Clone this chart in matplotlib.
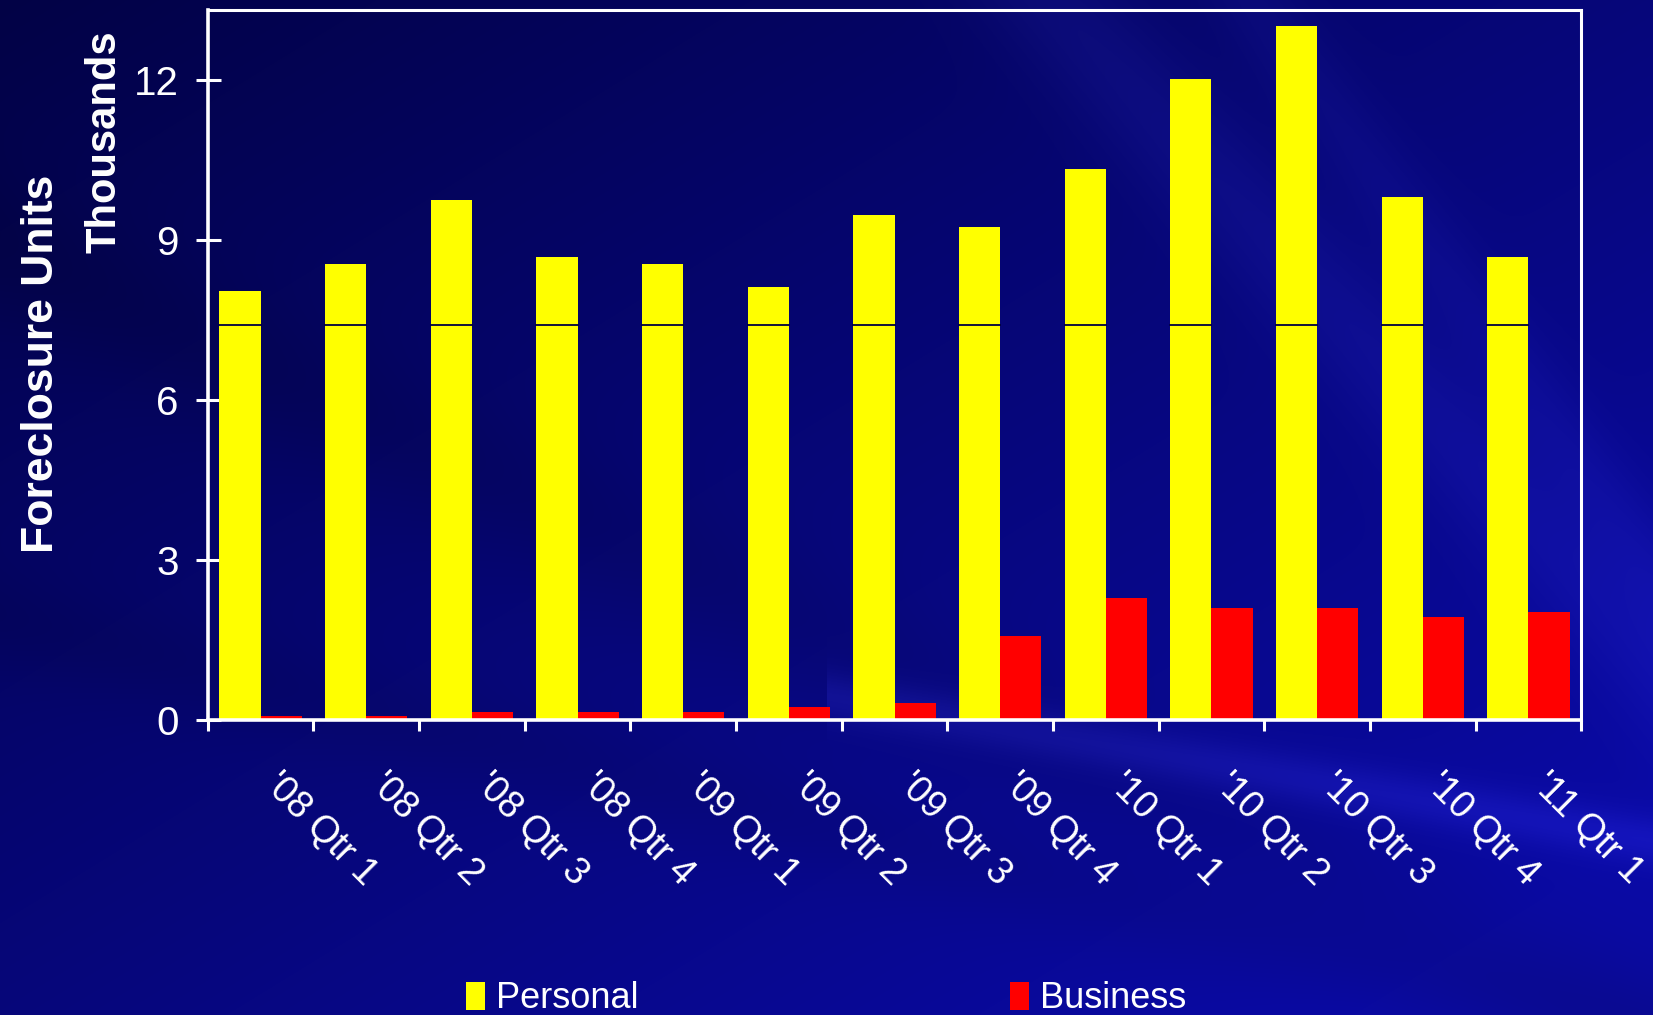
import numpy as np
import matplotlib.pyplot as plt
from matplotlib.transforms import ScaledTranslation

quarters = ["'08 Qtr 1", "'08 Qtr 2", "'08 Qtr 3", "'08 Qtr 4",
            "'09 Qtr 1", "'09 Qtr 2", "'09 Qtr 3", "'09 Qtr 4",
            "'10 Qtr 1", "'10 Qtr 2", "'10 Qtr 3", "'10 Qtr 4",
            "'11 Qtr 1"]
# foreclosure units, thousands
personal = [8.05, 8.54, 9.75, 8.68, 8.54, 8.11, 9.47, 9.25, 10.32, 12.02, 13.01, 9.81, 8.68]
business = [0.08, 0.08, 0.16, 0.16, 0.16, 0.24, 0.32, 1.58, 2.29, 2.10, 2.10, 1.94, 2.02]
y_ticks = [0, 3, 6, 9, 12]

sans = ["Liberation Sans", "DejaVu Sans"]

W, H = 1653, 1015
fig = plt.figure(figsize=(W / 100, H / 100), dpi=100)

# navy slide background with a few soft diagonal streaks
yy, xx = np.mgrid[0:H, 0:W]
u = xx / W
v = yy / H
t = np.clip(0.55 * u + 0.55 * v, 0, 1)
r = 2 + 8 * t
g = 2 + 8 * t
b = 70 + 95 * t
def band(px, py, dx, dy, width):
    n = np.hypot(dx, dy)
    d = ((xx - px) * dy - (yy - py) * dx) / n
    return np.exp(-(d / width) ** 2)
streak = (0.35 * band(1050, 0, 600, 650, 60) + 0.25 * band(1250, 0, 500, 700, 40)
          + 0.5 * band(850, 700, 800, 140, 25) * (u > 0.5))
dark = 0.35 * band(0, 250, 900, 420, 70) + 0.3 * band(0, 620, 1000, 250, 50)
b = b + 45 * streak - 30 * dark
r = r + 20 * streak
g = g + 20 * streak
img = np.clip(np.dstack([r, g, b]) / 255, 0, 1)
bg = fig.add_axes([0, 0, 1, 1], zorder=-10)
bg.imshow(img, aspect="auto", interpolation="bilinear")
bg.axis("off")

ax = fig.add_axes([0.1257, 0.2906, 0.9566 - 0.1257, 0.9897 - 0.2906])
ax.patch.set_alpha(0)

x = np.arange(len(quarters))
w = 0.39
yb = ax.bar(x - w / 2, personal, w, color="#ffff00", label="Personal", zorder=2)
rb = ax.bar(x + w / 2, business, w, color="#ff0000", label="Business", zorder=2)
# thin dark rule crossing each yellow column
for xi in x:
    ax.plot([xi - w, xi], [7.4, 7.4], color="#000040", lw=1.3, zorder=3)

ax.set_xlim(-0.5, len(quarters) - 0.5)
ax.set_ylim(0, 13.3)
ax.set_yticks(y_ticks)
ax.set_yticklabels([str(v) for v in y_ticks], family=sans, fontsize=29, color="white")
ax.tick_params(axis="y", direction="inout", length=18, width=2.2, color="white", pad=12)

ax.set_xticks(np.arange(len(quarters) + 1) - 0.5)
ax.set_xticklabels([])
ax.tick_params(axis="x", which="major", direction="out", length=8, width=2.2, color="white")
ax.set_xticks(x, minor=True)
ax.set_xticklabels(quarters, minor=True, family=sans, fontsize=27, color="white",
                   rotation=-45, ha="left", va="top", rotation_mode="anchor")
ax.tick_params(axis="x", which="minor", length=0, pad=33)
shift = ScaledTranslation(22 / 100, 0, fig.dpi_scale_trans)
for lab in ax.get_xticklabels(minor=True):
    lab.set_transform(lab.get_transform() + shift)

for side in ["left", "bottom"]:
    ax.spines[side].set_color("white")
    ax.spines[side].set_linewidth(2.6)
for side in ["top", "right"]:
    ax.spines[side].set_color("white")
    ax.spines[side].set_linewidth(2.2)

fig.text(0.025, 1 - 364 / H, "Foreclosure Units", rotation=90, ha="center", va="center",
         family=sans, fontsize=32, fontweight="bold", color="white")
fig.text(0.063, 1 - 142 / H, "Thousands", rotation=90, ha="center", va="center",
         family=sans, fontsize=30, fontweight="bold", color="white")

leg = fig.legend(handles=[yb, rb], loc="center left", bbox_to_anchor=(466 / W, 16 / H),
                 ncol=2, frameon=False, borderpad=0, borderaxespad=0,
                 handlelength=0.53, handleheight=0.8, handletextpad=0.29,
                 columnspacing=10.3, prop={"family": sans, "size": 26})
for txt in leg.get_texts():
    txt.set_color("white")

fig.savefig("out.png", dpi=100)
